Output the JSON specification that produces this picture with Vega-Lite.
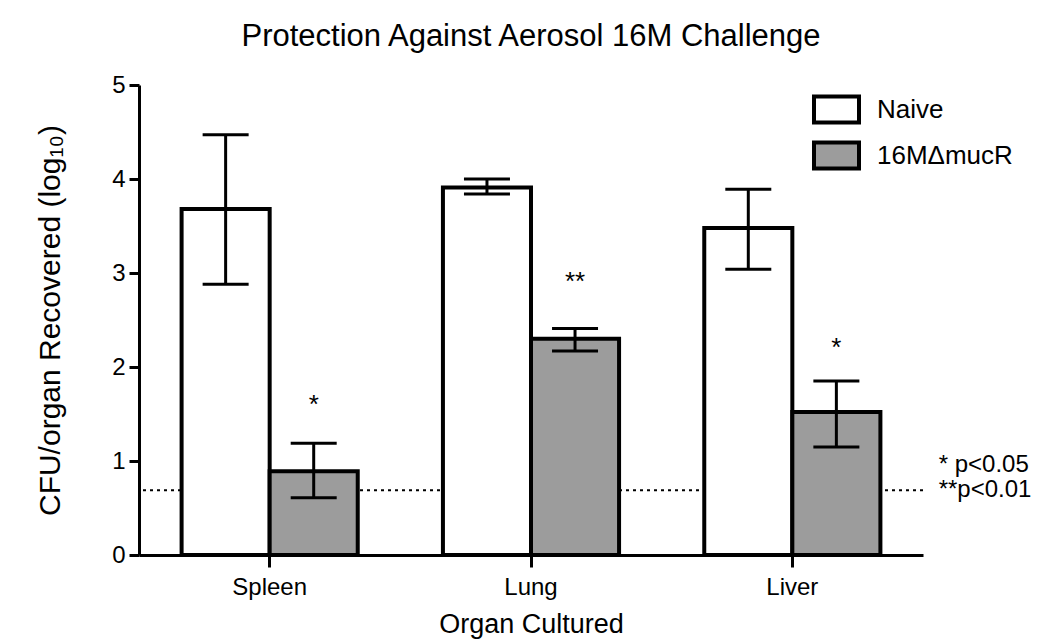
{
  "$schema": "https://vega.github.io/schema/vega-lite/v6.json",
  "autosize": {"type": "none"},
  "padding": {"left": 139, "top": 85, "right": 128, "bottom": 89},
  "width": 784,
  "height": 470,
  "background": "white",
  "title": {
    "text": "Protection Against Aerosol 16M Challenge",
    "fontSize": 31,
    "fontWeight": "normal",
    "font": "Liberation Sans",
    "color": "black",
    "anchor": "middle",
    "offset": 20
  },
  "config": {
    "view": {"stroke": null},
    "font": "Liberation Sans",
    "axis": {
      "domainColor": "black",
      "domainWidth": 3,
      "tickColor": "black",
      "tickWidth": 3,
      "labelColor": "black",
      "titleColor": "black",
      "labelFont": "Liberation Sans",
      "titleFont": "Liberation Sans",
      "titleFontWeight": "normal",
      "grid": false
    }
  },
  "datasets": {
    "bars": [
      {"organ": "Spleen", "group": "Naive", "mean": 3.68, "lo": 2.88, "hi": 4.47},
      {"organ": "Spleen", "group": "16MΔmucR", "mean": 0.89, "lo": 0.61, "hi": 1.19},
      {"organ": "Lung", "group": "Naive", "mean": 3.91, "lo": 3.84, "hi": 4.0},
      {"organ": "Lung", "group": "16MΔmucR", "mean": 2.3, "lo": 2.17, "hi": 2.41},
      {"organ": "Liver", "group": "Naive", "mean": 3.48, "lo": 3.04, "hi": 3.89},
      {"organ": "Liver", "group": "16MΔmucR", "mean": 1.52, "lo": 1.15, "hi": 1.85}
    ],
    "stars": [
      {"organ": "Spleen", "group": "16MΔmucR", "star": "*", "sy": 1.6},
      {"organ": "Lung", "group": "16MΔmucR", "star": "**", "sy": 2.9},
      {"organ": "Liver", "group": "16MΔmucR", "star": "*", "sy": 2.2}
    ],
    "notes": [
      {"note": "* p<0.05", "px": 1.02, "py": 0.96},
      {"note": "**p<0.01", "px": 1.02, "py": 0.69}
    ],
    "lod": [{"lod": 0.69}]
  },
  "layer": [
    {
      "layer": [
        {
          "data": {"name": "lod"},
          "mark": {"type": "rule", "strokeDash": [3, 4], "strokeWidth": 2, "color": "black"},
          "encoding": {
            "y": {"field": "lod", "type": "quantitative", "scale": {"domain": [0, 5], "nice": false}}
          }
        },
        {
          "data": {"name": "bars"},
          "mark": {"type": "bar", "stroke": "black", "strokeWidth": 4},
          "encoding": {
            "x": {
              "field": "organ", "type": "nominal",
              "sort": ["Spleen", "Lung", "Liver"],
              "scale": {"paddingInner": 0.326, "paddingOuter": 0.163},
              "axis": {"title": "Organ Cultured", "labelAngle": 0, "labelFontSize": 24, "titleFontSize": 27, "tickSize": 12, "labelPadding": 8, "titlePadding": 12}
            },
            "xOffset": {
              "field": "group", "type": "nominal",
              "sort": ["Naive", "16MΔmucR"],
              "scale": {"paddingInner": 0, "paddingOuter": 0}
            },
            "y": {
              "field": "mean", "type": "quantitative",
              "scale": {"domain": [0, 5], "nice": false},
              "axis": {"title": "CFU/organ Recovered (log₁₀)", "values": [0, 1, 2, 3, 4, 5], "format": "d", "labelFontSize": 24, "titleFontSize": 30, "tickSize": 10, "labelPadding": 4, "titlePadding": 46}
            },
            "fill": {
              "field": "group", "type": "nominal",
              "sort": ["Naive", "16MΔmucR"],
              "scale": {"domain": ["Naive", "16MΔmucR"], "range": ["#ffffff", "#9c9c9c"]},
              "legend": {
                "title": null,
                "orient": "none",
                "legendX": 673,
                "legendY": 0,
                "padding": 0,
                "rowPadding": -2,
                "labelFontSize": 26,
                "labelColor": "black",
                "labelFont": "Liberation Sans",
                "labelOffset": 16,
                "symbolType": "M-1,-0.58H1V0.58H-1Z",
                "symbolSize": 2025,
                "symbolStrokeColor": "black",
                "symbolStrokeWidth": 4,
                "symbolOpacity": 1
              }
            }
          }
        },
        {
          "data": {"name": "bars"},
          "mark": {"type": "rule", "strokeWidth": 3, "color": "black"},
          "encoding": {
            "x": {"field": "organ", "type": "nominal", "sort": ["Spleen", "Lung", "Liver"]},
            "xOffset": {"field": "group", "type": "nominal", "sort": ["Naive", "16MΔmucR"]},
            "y": {"field": "lo", "type": "quantitative"},
            "y2": {"field": "hi"}
          }
        },
        {
          "data": {"name": "bars"},
          "mark": {"type": "tick", "size": 46, "thickness": 3, "color": "black", "opacity": 1},
          "encoding": {
            "x": {"field": "organ", "type": "nominal", "sort": ["Spleen", "Lung", "Liver"]},
            "xOffset": {"field": "group", "type": "nominal", "sort": ["Naive", "16MΔmucR"]},
            "y": {"field": "lo", "type": "quantitative"}
          }
        },
        {
          "data": {"name": "bars"},
          "mark": {"type": "tick", "size": 46, "thickness": 3, "color": "black", "opacity": 1},
          "encoding": {
            "x": {"field": "organ", "type": "nominal", "sort": ["Spleen", "Lung", "Liver"]},
            "xOffset": {"field": "group", "type": "nominal", "sort": ["Naive", "16MΔmucR"]},
            "y": {"field": "hi", "type": "quantitative"}
          }
        },
        {
          "data": {"name": "stars"},
          "mark": {"type": "text", "fontSize": 26, "color": "black", "baseline": "middle", "align": "center"},
          "encoding": {
            "x": {"field": "organ", "type": "nominal", "sort": ["Spleen", "Lung", "Liver"]},
            "xOffset": {"field": "group", "type": "nominal", "sort": ["Naive", "16MΔmucR"]},
            "y": {"field": "sy", "type": "quantitative"},
            "text": {"field": "star"}
          }
        }
      ]
    },
    {
      "data": {"name": "notes"},
      "mark": {"type": "text", "fontSize": 24, "color": "black", "baseline": "middle", "align": "left"},
      "encoding": {
        "x": {"field": "px", "type": "quantitative", "scale": {"domain": [0, 1], "nice": false}, "axis": null},
        "y": {"field": "py", "type": "quantitative"},
        "text": {"field": "note"}
      }
    }
  ],
  "resolve": {"scale": {"x": "independent"}}
}
